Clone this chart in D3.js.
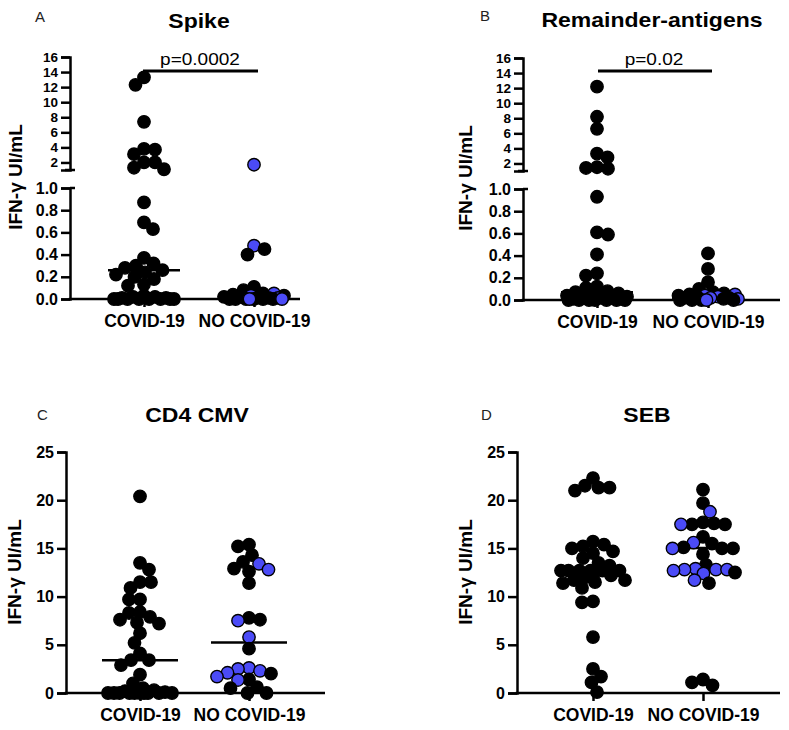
<!DOCTYPE html>
<html><head><meta charset="utf-8">
<script src="https://cdn.jsdelivr.net/npm/d3@7"></script>
<style>body{margin:0;background:#fff} svg{display:block}</style>
</head><body>
<svg id="c" width="789" height="730"></svg>
<script>
// ---------------- DATA ----------------
const categories = ["COVID-19", "NO COVID-19"];
const panelLetters = ["A", "B", "C", "D"];
const panelTitles = ["Spike", "Remainder-antigens", "CD4 CMV", "SEB"];
const yLabelText = "IFN-γ UI/mL";
const pLabels = ["p=0.0002", "p=0.02", null, null];
const brokenUpperTicks = [2, 4, 6, 8, 10, 12, 14, 16];
const brokenLowerTicks = [0, 0.2, 0.4, 0.6, 0.8, 1.0];
const linearTicks = [0, 5, 10, 15, 20, 25];

// Spike
const spikeCovid = [13.3, 12.3, 7.4, 3.8, 3.7, 3.1, 2.0, 2.0, 1.3, 1.1, 0.87, 0.69, 0.63, 0.37, 0.32, 0.30, 0.28, 0.26, 0.24, 0.22, 0.20, 0.18, 0.13, 0.12, 0.03, 0.02, 0.02, 0.01, 0.01, 0, 0, 0, 0, 0, 0, 0, 0];
const spikeNoCovidBlack = [0.45, 0.40, 0.11, 0.08, 0.05, 0.04, 0.03, 0.02, 0.02, 0.01, 0.01, 0, 0, 0, 0, 0, 0];
const spikeNoCovidBlue = [1.7, 0.48, 0.05, 0.03, 0.01, 0, 0];
const spikeMedians = [0.26, 0.01];

// Remainder-antigens
const remCovid = [12.2, 8.2, 6.6, 3.3, 2.8, 1.5, 1.4, 1.3, 0.93, 0.61, 0.59, 0.41, 0.24, 0.22, 0.12, 0.11, 0.08, 0.07, 0.06, 0.05, 0.04, 0.03, 0.03, 0.02, 0.02, 0.01, 0.01, 0, 0, 0, 0, 0, 0, 0];
const remNoCovidBlack = [0.42, 0.28, 0.16, 0.10, 0.07, 0.06, 0.05, 0.04, 0.03, 0.02, 0.02, 0.01, 0, 0, 0, 0];
const remNoCovidBlue = [0.05, 0.04, 0.03, 0.02, 0.01, 0];
const remMedians = [0.07, 0.02];

// CD4 CMV
const cmvCovid = [20.4, 13.5, 12.8, 11.5, 11.5, 10.9, 9.7, 9.7, 8.4, 8.3, 7.9, 7.6, 7.3, 7.2, 6.2, 5.2, 4.1, 3.4, 3.4, 2.9, 1.9, 1.0, 0.5, 0.3, 0.2, 0.1, 0, 0, 0, 0, 0, 0, 0, 0, 0, 0];
const cmvNoCovidBlack = [15.4, 15.2, 14.3, 13.6, 12.9, 12.6, 11.4, 7.8, 7.6, 4.6, 2.0, 1.4, 0.6, 0.5, 0, 0];
const cmvNoCovidBlue = [13.4, 12.8, 7.5, 5.8, 2.6, 2.5, 2.3, 2.1, 1.7, 1.35];
const cmvMedians = [3.4, 5.25];

// SEB
const sebCovid = [22.3, 21.5, 21.3, 21.3, 21.0, 15.7, 15.4, 15.2, 15.0, 14.7, 14.5, 14.0, 13.5, 13.2, 12.7, 12.7, 12.7, 12.7, 12.7, 12.7, 12.7, 12.2, 12.0, 11.7, 11.7, 11.5, 11.4, 10.9, 9.5, 9.4, 5.8, 2.5, 1.7, 1.1, 0.1];
const sebNoCovidBlack = [21.1, 19.7, 17.7, 17.6, 17.5, 17.5, 16.2, 15.5, 15.1, 15.0, 15.0, 14.4, 13.3, 12.5, 11.4, 1.4, 1.1, 0.8];
const sebNoCovidBlue = [18.8, 17.5, 15.6, 15.0, 12.9, 12.8, 12.8, 12.8, 12.7, 12.4, 11.7];
const sebMedians = [12.7, 15.05];

// ---------------- LAYOUT ----------------
const FONT = "'Liberation Sans', Arial, Helvetica, sans-serif";
const BLUE = "#4b4bf7";
const R = 6.2, D = 11;

const panels = [
  {groups: [[spikeCovid, []], [spikeNoCovidBlack, spikeNoCovidBlue]], medians: spikeMedians, broken: true,
   L: {x0: 70, cats: [144, 254], xEnd: 300, yZero: 299, yOne: 188, yBreak: 170, yTop: 57,
       letter: [35, 22], title: [199, 28], ylab: [22, 177], pBar: [143, 258, 71], pText: [200, 65], half: 30, mh: 36}},
  {groups: [[remCovid, []], [remNoCovidBlack, remNoCovidBlue]], medians: remMedians, broken: true,
   L: {x0: 523, cats: [597, 708], xEnd: 780, yZero: 300, yOne: 189, yBreak: 171, yTop: 58,
       letter: [480, 21], title: [652, 27], ylab: [472, 178], pBar: [598, 712, 71], pText: [654, 65], half: 30, mh: 36}},
  {groups: [[cmvCovid, []], [cmvNoCovidBlack, cmvNoCovidBlue]], medians: cmvMedians, broken: false,
   L: {x0: 66, cats: [140, 249], xEnd: 325, yZero: 693, yTop: 452,
       letter: [37, 420], title: [197, 422], ylab: [21, 572], half: 32, mh: 38}},
  {groups: [[sebCovid, []], [sebNoCovidBlack, sebNoCovidBlue]], medians: sebMedians, broken: false,
   L: {x0: 517, cats: [593, 703], xEnd: 780, yZero: 693, yTop: 452,
       letter: [481, 420], title: [647, 422], ylab: [472, 572], half: 32, mh: 33}}
];

const svg = d3.select("#c");

function swarm(points, d, maxHalf) {
  const placed = [];
  points.forEach((p, idx) => {
    const cands = [0];
    for (let o = 0.5; o <= maxHalf + 1e-9; o += 0.5) {
      if (idx % 2 === 0) cands.push(o, -o); else cands.push(-o, o);
    }
    let found = null, best = 0, bestScore = -Infinity;
    for (const o of cands) {
      let minD = Infinity;
      for (const q of placed) {
        const dy = q.py - p.py;
        if (Math.abs(dy) >= d) continue;
        const dd = Math.hypot(q.ox - o, dy);
        if (dd < minD) minD = dd;
      }
      if (minD >= d) { found = o; break; }
      if (minD > bestScore + 1e-9) { bestScore = minD; best = o; }
    }
    p.ox = found !== null ? found : best;
    placed.push(p);
  });
}

function styleAxis(g, fontSize) {
  g.selectAll("path.domain").attr("stroke", "#000").attr("stroke-width", 2.5);
  g.selectAll(".tick line").attr("stroke", "#000").attr("stroke-width", 2.5);
  g.selectAll(".tick text").attr("font-family", FONT).attr("font-weight", "bold")
    .attr("font-size", fontSize).attr("fill", "#000");
}

panels.forEach((P, pi) => {
  const L = P.L;
  const g = svg.append("g");

  let y, lower, upper, lin;
  if (P.broken) {
    lower = d3.scaleLinear().domain([0, 1]).range([L.yZero, L.yOne]);
    upper = d3.scaleLinear().domain([1, 16]).range([L.yBreak, L.yTop]);
    y = v => (v >= 1 ? upper(v) : lower(v));
  } else {
    lin = d3.scaleLinear().domain([0, 25]).range([L.yZero, L.yTop]);
    y = lin;
  }
  const x = d3.scalePoint().domain(categories).range(L.cats);

  g.append("text").attr("x", L.letter[0]).attr("y", L.letter[1])
    .attr("font-family", FONT).attr("font-size", 15).attr("fill", "#222").text(panelLetters[pi]);
  g.append("text").attr("transform", `translate(${L.title[0]},${L.title[1]}) scale(1.15,1)`)
    .attr("text-anchor", "middle").attr("font-family", FONT).attr("font-weight", "bold")
    .attr("font-size", 20).attr("fill", "#000").text(panelTitles[pi]);

  g.append("text").attr("transform", `translate(${L.ylab[0]},${L.ylab[1]}) rotate(-90)`)
    .attr("text-anchor", "middle").attr("font-family", FONT).attr("font-weight", "bold")
    .attr("font-size", 19).attr("fill", "#000").text(yLabelText);

  if (P.broken) {
    const gu = g.append("g").attr("transform", `translate(${L.x0},0)`)
      .call(d3.axisLeft(upper).tickValues(brokenUpperTicks).tickSizeOuter(0).tickSize(9).tickPadding(3).tickFormat(d3.format("d")));
    styleAxis(gu, 13.5);
    const gl = g.append("g").attr("transform", `translate(${L.x0},0)`)
      .call(d3.axisLeft(lower).tickValues(brokenLowerTicks).tickSizeOuter(0).tickSize(9).tickPadding(3).tickFormat(d3.format(".1f")));
    styleAxis(gl, 16);
    g.append("line").attr("x1", L.x0 - 5).attr("x2", L.x0 + 5).attr("y1", L.yBreak).attr("y2", L.yBreak)
      .attr("stroke", "#000").attr("stroke-width", 2.5);
    g.append("line").attr("x1", L.x0).attr("x2", L.x0 + 5).attr("y1", L.yOne).attr("y2", L.yOne)
      .attr("stroke", "#000").attr("stroke-width", 2.5);
  } else {
    const ga = g.append("g").attr("transform", `translate(${L.x0},0)`)
      .call(d3.axisLeft(lin).tickValues(linearTicks).tickSizeOuter(0).tickSize(9).tickPadding(3));
    styleAxis(ga, 16);
  }

  const gx = g.append("g").attr("transform", `translate(0,${L.yZero})`)
    .call(d3.axisBottom(x).tickSizeOuter(0).tickSize(8).tickPadding(8));
  gx.select("path.domain").remove();
  styleAxis(gx, 17.5);
  g.append("line").attr("x1", L.x0 - 1.25).attr("x2", L.xEnd).attr("y1", L.yZero).attr("y2", L.yZero)
    .attr("stroke", "#000").attr("stroke-width", 2.5);

  P.medians.forEach((m, ci) => {
    const cx = x(categories[ci]);
    g.append("line").attr("x1", cx - L.mh).attr("x2", cx + L.mh).attr("y1", y(m)).attr("y2", y(m))
      .attr("stroke", "#000").attr("stroke-width", 2.5);
  });

  P.groups.forEach((grp, ci) => {
    const pts = [];
    grp[0].forEach(v => pts.push({v, blue: false}));
    grp[1].forEach(v => pts.push({v, blue: true}));
    pts.sort((a, b) => b.v - a.v);
    pts.forEach(p => p.py = y(p.v));
    swarm(pts, D, L.half);
    const cx = x(categories[ci]);
    g.append("g").selectAll("circle").data(pts).join("circle")
      .attr("cx", p => cx + p.ox).attr("cy", p => p.py).attr("r", R)
      .attr("fill", p => p.blue ? BLUE : "#000")
      .attr("stroke", "#000").attr("stroke-width", 1.4);
  });

  if (pLabels[pi]) {
    g.append("line").attr("x1", L.pBar[0]).attr("x2", L.pBar[1]).attr("y1", L.pBar[2]).attr("y2", L.pBar[2])
      .attr("stroke", "#000").attr("stroke-width", 3);
    g.append("text").attr("transform", `translate(${L.pText[0]},${L.pText[1]}) scale(1.12,1)`)
      .attr("text-anchor", "middle").attr("font-family", FONT).attr("font-size", 17)
      .attr("fill", "#000").text(pLabels[pi]);
  }
});
</script>
</body></html>
